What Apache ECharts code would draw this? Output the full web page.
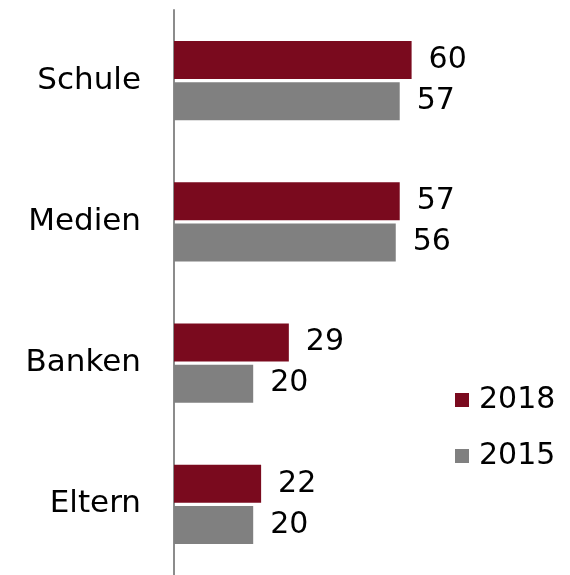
<!DOCTYPE html>
<html>
<head>
<meta charset="utf-8">
<script src="https://cdn.jsdelivr.net/npm/echarts@6/dist/echarts.min.js"></script>
<style>
  html, body { margin: 0; padding: 0; background: #fff; }
  #chart { width: 570px; height: 575px; }
</style>
</head>
<body>
<div id="chart"></div>
<script>
// Daten
var categories = ['Schule', 'Medien', 'Banken', 'Eltern'];
var values2018 = [60, 57, 29, 22];
var values2015 = [57, 56, 20, 20];

(function () {
  var myChart = echarts.init(document.getElementById('chart'));
  var font = 'DejaVu Sans';
  var option = {
    animation: false,
    textStyle: { fontFamily: font },
    grid: { left: 174, top: 10, width: 405, height: 567 },
    legend: {
      orient: 'vertical',
      left: 450,
      top: 380,
      icon: 'rect',
      itemWidth: 14,
      itemHeight: 14,
      itemGap: 26,
      textStyle: { fontSize: 30, color: '#000', fontFamily: font, padding: [0, 0, 0, 5] },
      data: ['2018', '2015']
    },
    xAxis: {
      type: 'value',
      min: 0,
      max: 100,
      show: false
    },
    yAxis: {
      type: 'category',
      data: categories,
      inverse: true,
      axisLine: { show: true, lineStyle: { color: '#8c8c8c', width: 2 } },
      axisTick: { show: false },
      axisLabel: { fontSize: 31, color: '#000', margin: 33, fontFamily: font }
    },
    series: [
      {
        name: '2018',
        type: 'bar',
        data: values2018,
        barWidth: 38,
        barGap: '8%',
        itemStyle: { color: '#7a0a1e' },
        label: { show: true, position: 'right', distance: 17, fontSize: 30, color: '#000', fontFamily: font }
      },
      {
        name: '2015',
        type: 'bar',
        data: values2015,
        barWidth: 38,
        barGap: '8%',
        itemStyle: { color: '#808080' },
        label: { show: true, position: 'right', distance: 17, fontSize: 30, color: '#000', fontFamily: font }
      }
    ]
  };
  myChart.setOption(option);
})();
</script>
</body>
</html>
